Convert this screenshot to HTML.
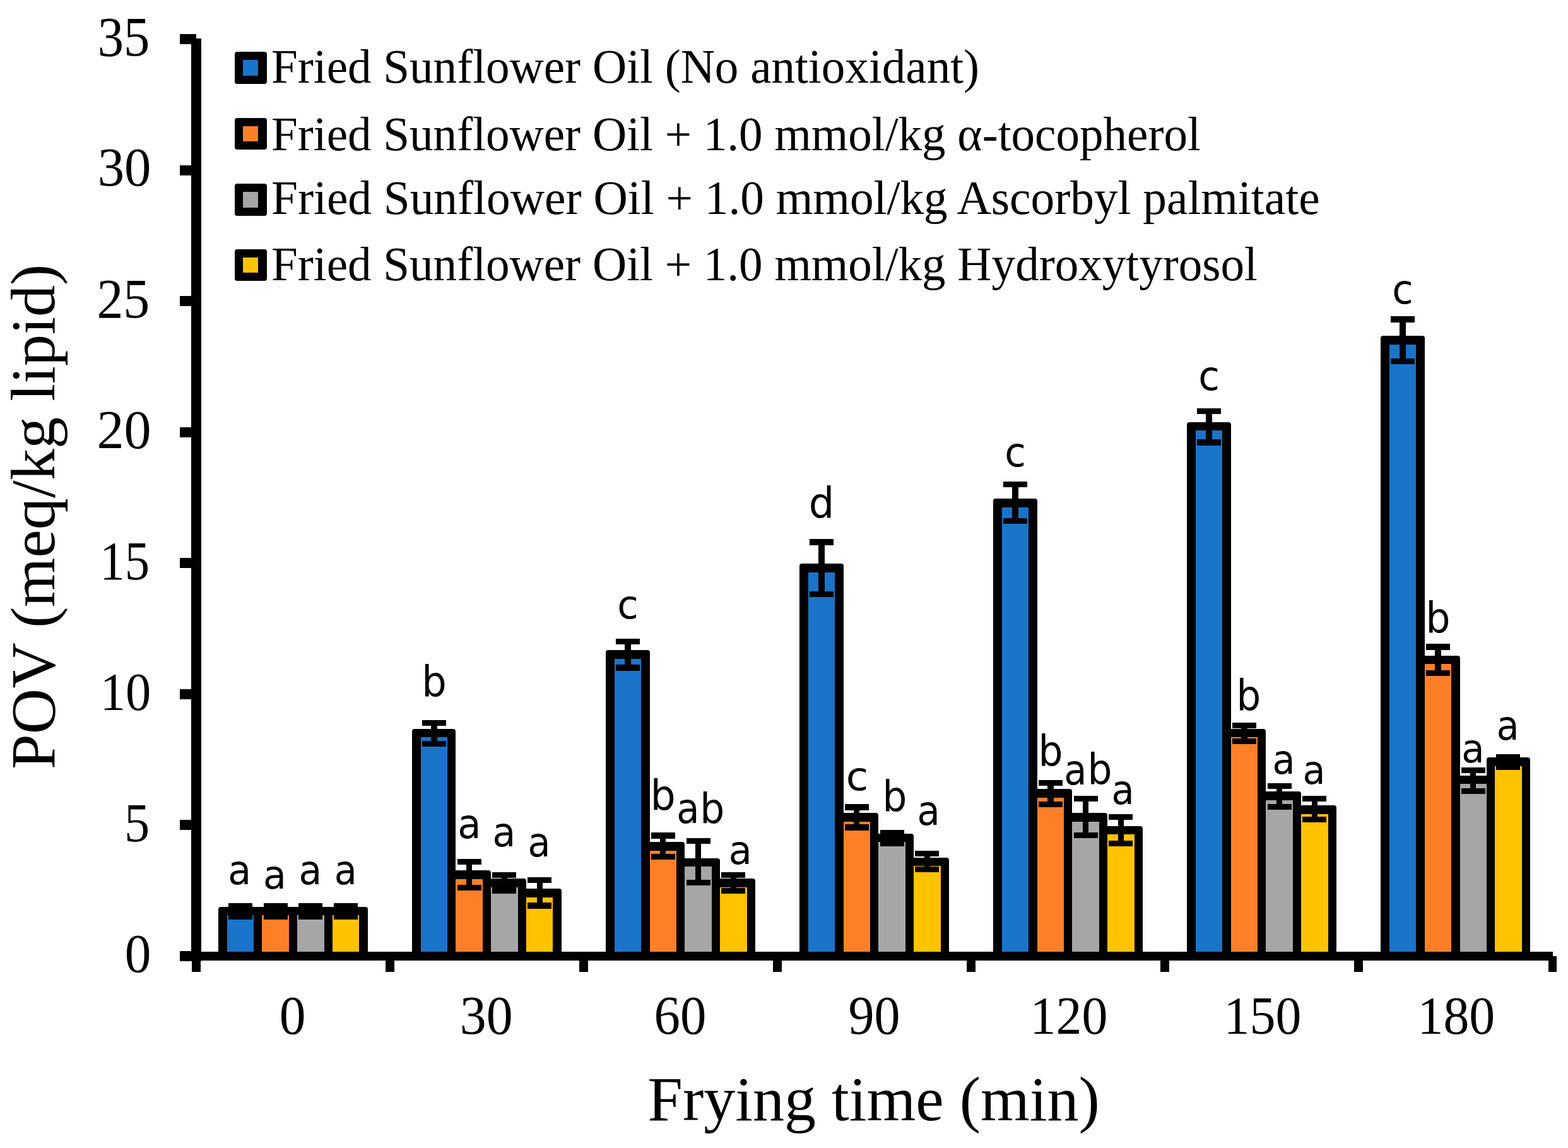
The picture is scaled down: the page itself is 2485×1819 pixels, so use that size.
<!DOCTYPE html>
<html><head><meta charset="utf-8"><title>POV vs Frying time</title>
<style>
html,body{margin:0;padding:0;background:#fff;}
body{width:2485px;height:1819px;overflow:hidden;}
svg{display:block;}
.ser{font-family:"Liberation Serif","Times New Roman",serif;fill:#000;}
.san{font-family:"DejaVu Sans","Liberation Sans",sans-serif;fill:#000;}
</style></head><body>
<svg width="2485" height="1819" viewBox="0 0 2485 1819" shape-rendering="crispEdges">
<rect width="2485" height="1819" fill="#fff"/>
<g>
<rect x="346" y="1437" width="69" height="75" rx="4" fill="#000" shape-rendering="geometricPrecision"/>
<rect x="360" y="1450" width="42" height="60" fill="#1a74c9"/>
<rect x="402" y="1437" width="69" height="75" rx="4" fill="#000" shape-rendering="geometricPrecision"/>
<rect x="415" y="1450" width="43" height="60" fill="#ff7f29"/>
<rect x="458" y="1437" width="69" height="75" rx="4" fill="#000" shape-rendering="geometricPrecision"/>
<rect x="471" y="1450" width="43" height="60" fill="#a6a6a6"/>
<rect x="514" y="1437" width="69" height="75" rx="4" fill="#000" shape-rendering="geometricPrecision"/>
<rect x="527" y="1450" width="42" height="60" fill="#ffc300"/>
<rect x="653" y="1155" width="69" height="357" rx="4" fill="#000" shape-rendering="geometricPrecision"/>
<rect x="667" y="1168" width="42" height="342" fill="#1a74c9"/>
<rect x="709" y="1379" width="69" height="133" rx="4" fill="#000" shape-rendering="geometricPrecision"/>
<rect x="722" y="1393" width="43" height="117" fill="#ff7f29"/>
<rect x="765" y="1392" width="69" height="120" rx="4" fill="#000" shape-rendering="geometricPrecision"/>
<rect x="778" y="1406" width="43" height="104" fill="#a6a6a6"/>
<rect x="821" y="1408" width="69" height="104" rx="4" fill="#000" shape-rendering="geometricPrecision"/>
<rect x="834" y="1422" width="42" height="88" fill="#ffc300"/>
<rect x="960" y="1030" width="70" height="482" rx="4" fill="#000" shape-rendering="geometricPrecision"/>
<rect x="974" y="1044" width="42" height="466" fill="#1a74c9"/>
<rect x="1016" y="1334" width="69" height="178" rx="4" fill="#000" shape-rendering="geometricPrecision"/>
<rect x="1030" y="1348" width="42" height="162" fill="#ff7f29"/>
<rect x="1072" y="1360" width="69" height="152" rx="4" fill="#000" shape-rendering="geometricPrecision"/>
<rect x="1085" y="1373" width="43" height="137" fill="#a6a6a6"/>
<rect x="1128" y="1392" width="69" height="120" rx="4" fill="#000" shape-rendering="geometricPrecision"/>
<rect x="1141" y="1406" width="43" height="104" fill="#ffc300"/>
<rect x="1267" y="893" width="70" height="619" rx="4" fill="#000" shape-rendering="geometricPrecision"/>
<rect x="1281" y="907" width="42" height="603" fill="#1a74c9"/>
<rect x="1323" y="1288" width="69" height="224" rx="4" fill="#000" shape-rendering="geometricPrecision"/>
<rect x="1337" y="1302" width="42" height="208" fill="#ff7f29"/>
<rect x="1379" y="1321" width="69" height="191" rx="4" fill="#000" shape-rendering="geometricPrecision"/>
<rect x="1392" y="1334" width="43" height="176" fill="#a6a6a6"/>
<rect x="1435" y="1359" width="69" height="153" rx="4" fill="#000" shape-rendering="geometricPrecision"/>
<rect x="1448" y="1372" width="43" height="138" fill="#ffc300"/>
<rect x="1574" y="790" width="70" height="722" rx="4" fill="#000" shape-rendering="geometricPrecision"/>
<rect x="1588" y="804" width="42" height="706" fill="#1a74c9"/>
<rect x="1630" y="1250" width="69" height="262" rx="4" fill="#000" shape-rendering="geometricPrecision"/>
<rect x="1644" y="1264" width="42" height="246" fill="#ff7f29"/>
<rect x="1686" y="1288" width="69" height="224" rx="4" fill="#000" shape-rendering="geometricPrecision"/>
<rect x="1699" y="1302" width="43" height="208" fill="#a6a6a6"/>
<rect x="1742" y="1309" width="69" height="203" rx="4" fill="#000" shape-rendering="geometricPrecision"/>
<rect x="1755" y="1322" width="43" height="188" fill="#ffc300"/>
<rect x="1881" y="669" width="70" height="843" rx="4" fill="#000" shape-rendering="geometricPrecision"/>
<rect x="1895" y="682" width="42" height="828" fill="#1a74c9"/>
<rect x="1937" y="1155" width="69" height="357" rx="4" fill="#000" shape-rendering="geometricPrecision"/>
<rect x="1951" y="1168" width="42" height="342" fill="#ff7f29"/>
<rect x="1993" y="1254" width="69" height="258" rx="4" fill="#000" shape-rendering="geometricPrecision"/>
<rect x="2006" y="1268" width="43" height="242" fill="#a6a6a6"/>
<rect x="2049" y="1276" width="69" height="236" rx="4" fill="#000" shape-rendering="geometricPrecision"/>
<rect x="2062" y="1290" width="43" height="220" fill="#ffc300"/>
<rect x="2188" y="532" width="70" height="980" rx="4" fill="#000" shape-rendering="geometricPrecision"/>
<rect x="2202" y="546" width="42" height="964" fill="#1a74c9"/>
<rect x="2244" y="1039" width="70" height="473" rx="4" fill="#000" shape-rendering="geometricPrecision"/>
<rect x="2258" y="1052" width="42" height="458" fill="#ff7f29"/>
<rect x="2300" y="1229" width="69" height="283" rx="4" fill="#000" shape-rendering="geometricPrecision"/>
<rect x="2314" y="1242" width="42" height="268" fill="#a6a6a6"/>
<rect x="2356" y="1200" width="69" height="312" rx="4" fill="#000" shape-rendering="geometricPrecision"/>
<rect x="2369" y="1214" width="43" height="296" fill="#ffc300"/>
</g>
<g fill="#000">
<rect x="376" y="1436" width="10" height="16"/>
<rect x="362" y="1431" width="38" height="9"/>
<rect x="362" y="1447" width="38" height="10"/>
<rect x="432" y="1436" width="9" height="16"/>
<rect x="418" y="1431" width="38" height="9"/>
<rect x="418" y="1447" width="38" height="10"/>
<rect x="488" y="1436" width="9" height="16"/>
<rect x="473" y="1431" width="38" height="9"/>
<rect x="473" y="1447" width="38" height="10"/>
<rect x="544" y="1436" width="9" height="16"/>
<rect x="529" y="1431" width="38" height="9"/>
<rect x="529" y="1447" width="38" height="10"/>
<rect x="683" y="1145" width="10" height="33"/>
<rect x="669" y="1141" width="38" height="9"/>
<rect x="669" y="1174" width="38" height="9"/>
<rect x="739" y="1365" width="9" height="41"/>
<rect x="725" y="1361" width="38" height="9"/>
<rect x="725" y="1402" width="38" height="9"/>
<rect x="795" y="1386" width="9" height="25"/>
<rect x="780" y="1382" width="38" height="9"/>
<rect x="780" y="1406" width="38" height="10"/>
<rect x="851" y="1394" width="9" height="41"/>
<rect x="836" y="1390" width="38" height="9"/>
<rect x="836" y="1430" width="38" height="10"/>
<rect x="990" y="1016" width="10" height="42"/>
<rect x="976" y="1012" width="38" height="9"/>
<rect x="976" y="1053" width="38" height="10"/>
<rect x="1046" y="1324" width="9" height="33"/>
<rect x="1032" y="1319" width="38" height="10"/>
<rect x="1032" y="1353" width="38" height="9"/>
<rect x="1102" y="1333" width="9" height="65"/>
<rect x="1088" y="1328" width="38" height="9"/>
<rect x="1088" y="1394" width="38" height="9"/>
<rect x="1158" y="1386" width="9" height="25"/>
<rect x="1143" y="1382" width="38" height="9"/>
<rect x="1143" y="1407" width="38" height="9"/>
<rect x="1297" y="859" width="10" height="83"/>
<rect x="1283" y="854" width="38" height="10"/>
<rect x="1283" y="937" width="38" height="9"/>
<rect x="1353" y="1279" width="9" height="32"/>
<rect x="1339" y="1274" width="38" height="10"/>
<rect x="1339" y="1306" width="38" height="10"/>
<rect x="1409" y="1320" width="9" height="16"/>
<rect x="1395" y="1315" width="38" height="10"/>
<rect x="1395" y="1331" width="38" height="10"/>
<rect x="1465" y="1352" width="9" height="25"/>
<rect x="1450" y="1348" width="38" height="9"/>
<rect x="1450" y="1373" width="38" height="9"/>
<rect x="1604" y="767" width="10" height="59"/>
<rect x="1590" y="763" width="38" height="9"/>
<rect x="1590" y="821" width="38" height="9"/>
<rect x="1660" y="1240" width="10" height="34"/>
<rect x="1646" y="1236" width="38" height="9"/>
<rect x="1646" y="1270" width="38" height="9"/>
<rect x="1716" y="1265" width="9" height="58"/>
<rect x="1702" y="1261" width="38" height="9"/>
<rect x="1702" y="1319" width="38" height="9"/>
<rect x="1772" y="1294" width="9" height="42"/>
<rect x="1757" y="1290" width="38" height="9"/>
<rect x="1757" y="1332" width="38" height="9"/>
<rect x="1911" y="652" width="10" height="49"/>
<rect x="1897" y="647" width="38" height="9"/>
<rect x="1897" y="696" width="38" height="10"/>
<rect x="1967" y="1150" width="10" height="24"/>
<rect x="1953" y="1145" width="38" height="9"/>
<rect x="1953" y="1170" width="38" height="9"/>
<rect x="2023" y="1246" width="9" height="32"/>
<rect x="2009" y="1241" width="38" height="9"/>
<rect x="2009" y="1274" width="38" height="9"/>
<rect x="2079" y="1266" width="9" height="32"/>
<rect x="2064" y="1261" width="38" height="9"/>
<rect x="2064" y="1294" width="38" height="9"/>
<rect x="2218" y="506" width="10" height="66"/>
<rect x="2204" y="501" width="38" height="10"/>
<rect x="2204" y="568" width="38" height="9"/>
<rect x="2274" y="1025" width="10" height="41"/>
<rect x="2260" y="1020" width="38" height="10"/>
<rect x="2260" y="1062" width="38" height="9"/>
<rect x="2330" y="1220" width="9" height="33"/>
<rect x="2316" y="1216" width="38" height="9"/>
<rect x="2316" y="1249" width="38" height="9"/>
<rect x="2386" y="1200" width="9" height="15"/>
<rect x="2371" y="1195" width="38" height="10"/>
<rect x="2371" y="1210" width="38" height="10"/>
</g>
<g fill="#000">
<rect x="303" y="61" width="16" height="1462"/>
<rect x="303" y="1508" width="2158" height="14"/>
<rect x="285" y="1507" width="26" height="16"/>
<rect x="285" y="1299" width="26" height="16"/>
<rect x="285" y="1092" width="26" height="16"/>
<rect x="285" y="884" width="26" height="16"/>
<rect x="285" y="677" width="26" height="16"/>
<rect x="285" y="469" width="26" height="16"/>
<rect x="285" y="262" width="26" height="16"/>
<rect x="285" y="54" width="26" height="16"/>
<rect x="304" y="1515" width="14" height="25"/>
<rect x="611" y="1515" width="14" height="25"/>
<rect x="918" y="1515" width="14" height="25"/>
<rect x="1225" y="1515" width="14" height="25"/>
<rect x="1532" y="1515" width="14" height="25"/>
<rect x="1839" y="1515" width="14" height="25"/>
<rect x="2146" y="1515" width="14" height="25"/>
<rect x="2454" y="1515" width="13" height="25"/>
</g>
<text class="ser" transform="translate(197.67,1540.28) scale(0.968,1)" font-size="86.12">0</text>
<text class="ser" transform="translate(196.97,1333.13) scale(0.930,1)" font-size="86.52">5</text>
<text class="ser" transform="translate(158.65,1125.29) scale(0.943,1)" font-size="85.44">10</text>
<text class="ser" transform="translate(158.30,917.84) scale(0.920,1)" font-size="85.67">15</text>
<text class="ser" transform="translate(153.46,710.17) scale(0.994,1)" font-size="86.57">20</text>
<text class="ser" transform="translate(153.45,503.02) scale(0.954,1)" font-size="87.88">25</text>
<text class="ser" transform="translate(154.66,294.26) scale(0.975,1)" font-size="87.01">30</text>
<text class="ser" transform="translate(154.77,88.12) scale(0.937,1)" font-size="88.18">35</text>
<text class="ser" transform="translate(442.66,1638.17) scale(0.965,1)" font-size="86.57">0</text>
<text class="ser" transform="translate(728.71,1638.36) scale(0.964,1)" font-size="87.01">30</text>
<text class="ser" transform="translate(1036.59,1638.36) scale(0.952,1)" font-size="87.01">60</text>
<text class="ser" transform="translate(1344.44,1638.26) scale(0.943,1)" font-size="86.87">90</text>
<text class="ser" transform="translate(1632.53,1638.19) scale(0.959,1)" font-size="85.44">120</text>
<text class="ser" transform="translate(1939.53,1638.29) scale(0.957,1)" font-size="85.59">150</text>
<text class="ser" transform="translate(2246.43,1638.29) scale(0.957,1)" font-size="85.59">180</text>
<text class="ser" x="1026.3" y="1775.3" font-size="100">Frying time (min)</text>
<text class="ser" transform="translate(85.7,1219) rotate(-90) scale(1.003,1)" font-size="100">POV (meq/kg lipid)</text>
<rect x="372" y="82" width="51" height="51" rx="4" fill="#000" shape-rendering="geometricPrecision"/>
<rect x="385" y="95" width="24" height="25" fill="#1a74c9"/>
<text class="ser" transform="translate(430,130.9) scale(1.0,1)" font-size="75.1">Fried Sunflower Oil (No antioxidant)</text>
<rect x="372" y="187" width="51" height="50" rx="4" fill="#000" shape-rendering="geometricPrecision"/>
<rect x="385" y="200" width="24" height="24" fill="#ff7f29"/>
<text class="ser" transform="translate(430,238.1) scale(1.0,1)" font-size="75.1">Fried Sunflower Oil + 1.0 mmol/kg α-tocopherol</text>
<rect x="372" y="291" width="51" height="51" rx="4" fill="#000" shape-rendering="geometricPrecision"/>
<rect x="385" y="304" width="24" height="25" fill="#a6a6a6"/>
<text class="ser" transform="translate(430,338.7) scale(1.003,1)" font-size="75.1">Fried Sunflower Oil + 1.0 mmol/kg Ascorbyl palmitate</text>
<rect x="372" y="395" width="51" height="50" rx="4" fill="#000" shape-rendering="geometricPrecision"/>
<rect x="385" y="408" width="24" height="24" fill="#ffc300"/>
<text class="ser" transform="translate(430,443.8) scale(1.0,1)" font-size="75.1">Fried Sunflower Oil + 1.0 mmol/kg Hydroxytyrosol</text>
<text class="san" transform="translate(361.29,1401.26) scale(0.940,1)" font-size="64.04">a</text>
<text class="san" transform="translate(417.09,1407.87) scale(0.959,1)" font-size="62.81">a</text>
<text class="san" transform="translate(473.41,1401.26) scale(0.934,1)" font-size="64.04">a</text>
<text class="san" transform="translate(529.78,1401.26) scale(0.917,1)" font-size="64.04">a</text>
<text class="san" transform="translate(668.20,1103.63) scale(0.929,1)" font-size="67.01">b</text>
<text class="san" transform="translate(725.36,1327.87) scale(0.958,1)" font-size="63.33">a</text>
<text class="san" transform="translate(780.40,1341.06) scale(0.932,1)" font-size="64.39">a</text>
<text class="san" transform="translate(836.48,1357.05) scale(0.907,1)" font-size="64.74">a</text>
<text class="san" transform="translate(978.34,980.17) scale(0.965,1)" font-size="63.16">c</text>
<text class="san" transform="translate(1030.84,1282.94) scale(0.949,1)" font-size="66.23">b</text>
<text class="san" transform="translate(1072.35,1304.35) scale(0.906,1)" font-size="65.26">a</text>
<text class="san" transform="translate(1109.37,1303.53) scale(0.922,1)" font-size="66.62">b</text>
<text class="san" transform="translate(1154.77,1369.38) scale(0.970,1)" font-size="62.28">a</text>
<text class="san" transform="translate(1281.67,821.13) scale(0.948,1)" font-size="67.27">d</text>
<text class="san" transform="translate(1340.83,1252.07) scale(1.026,1)" font-size="62.81">c</text>
<text class="san" transform="translate(1398.49,1285.93) scale(0.912,1)" font-size="67.14">b</text>
<text class="san" transform="translate(1453.45,1307.26) scale(0.926,1)" font-size="63.86">a</text>
<text class="san" transform="translate(1592.23,739.36) scale(0.963,1)" font-size="63.51">c</text>
<text class="san" transform="translate(1645.47,1214.12) scale(0.908,1)" font-size="67.66">b</text>
<text class="san" transform="translate(1686.35,1243.25) scale(0.908,1)" font-size="65.09">a</text>
<text class="san" transform="translate(1723.47,1242.93) scale(0.915,1)" font-size="67.14">b</text>
<text class="san" transform="translate(1761.55,1274.16) scale(0.923,1)" font-size="64.04">a</text>
<text class="san" transform="translate(1899.33,618.37) scale(0.966,1)" font-size="63.33">c</text>
<text class="san" transform="translate(1959.41,1125.73) scale(0.912,1)" font-size="66.88">b</text>
<text class="san" transform="translate(2016.57,1226.26) scale(0.917,1)" font-size="64.21">a</text>
<text class="san" transform="translate(2064.58,1242.47) scale(0.932,1)" font-size="62.98">a</text>
<text class="san" transform="translate(2206.14,481.36) scale(0.959,1)" font-size="63.51">c</text>
<text class="san" transform="translate(2259.47,1003.13) scale(0.911,1)" font-size="67.40">b</text>
<text class="san" transform="translate(2316.34,1207.67) scale(0.945,1)" font-size="62.81">a</text>
<text class="san" transform="translate(2371.79,1171.86) scale(0.918,1)" font-size="63.68">a</text>
</svg></body></html>
